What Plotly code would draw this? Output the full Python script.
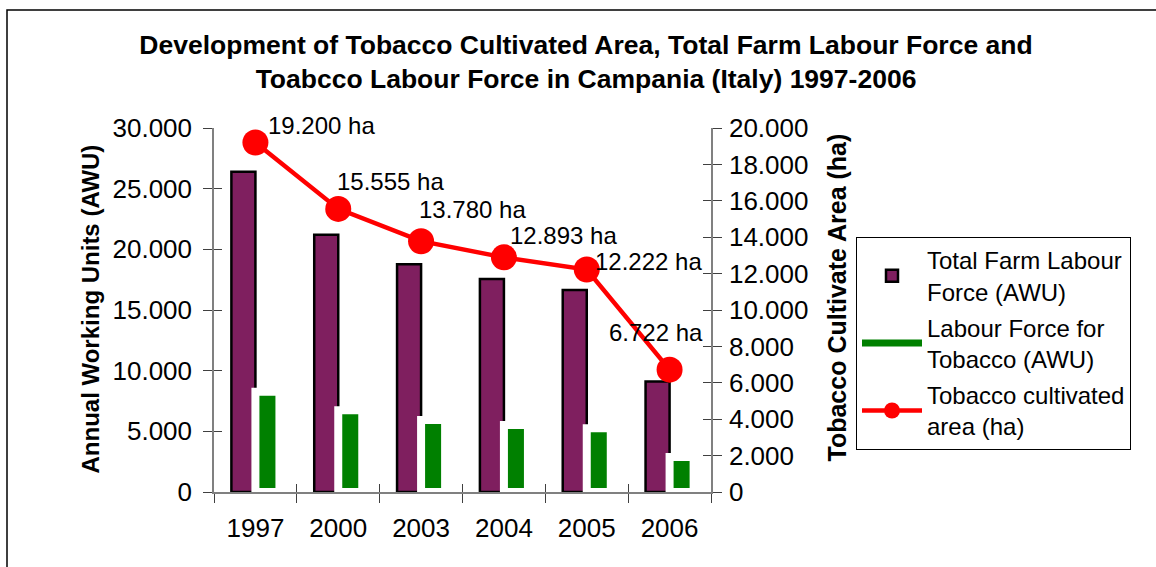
import plotly.graph_objects as go

# Campania tobacco statistics, 1997-2006
years = ["1997", "2000", "2003", "2004", "2005", "2006"]
total_farm_awu = [26400, 21200, 18770, 17560, 16650, 9100]
tobacco_awu = [8270, 6730, 5930, 5520, 5250, 2880]
tobacco_area_ha = [19200, 15555, 13780, 12893, 12222, 6722]

left_ticks = [0, 5000, 10000, 15000, 20000, 25000, 30000]
right_ticks = list(range(0, 20001, 2000))

# pixel offsets of the area labels from their markers
label_dx = [11, -3, -4, 4, 6, -63]
label_dy = [17, 27, 32, 22, 8, 37]

PURPLE = "#7F1F5F"
GREEN = "#008000"
RED = "#FF0000"
FONT = "Liberation Sans, Arial, sans-serif"

W, H = 1156, 567
ML, MR, MT, MB = 214, W - 711, 128, H - 492
PW, PH = W - ML - MR, H - MT - MB


def px_x(p):
    return (p - ML) / PW


def px_y(p):
    return (H - MB - p) / PH


def fmt(v):
    return f"{v:,}".replace(",", ".")


fig = go.Figure()

fig.add_trace(go.Bar(
    x=years, y=total_farm_awu, name="Total Farm Labour<br>Force (AWU)",
    marker=dict(color=PURPLE, line=dict(color="black", width=2.5)),
    legendgroup="a",
))
fig.add_trace(go.Bar(
    x=years, y=tobacco_awu, name="Labour Force for<br>Tobacco (AWU)",
    marker=dict(color=GREEN, line=dict(color="white", width=8)),
    showlegend=False, legendgroup="b",
))
# legend key for the tobacco labour bars, drawn as a thick green stroke
fig.add_trace(go.Scatter(
    x=[years[0]], y=[None], mode="lines", name="Labour Force for<br>Tobacco (AWU)",
    line=dict(color=GREEN, width=7), legendgroup="b", hoverinfo="skip",
))
fig.add_trace(go.Scatter(
    x=years, y=tobacco_area_ha, yaxis="y2", mode="lines+markers",
    name="Tobacco cultivated<br>area (ha)",
    line=dict(color=RED, width=4.5),
    marker=dict(color=RED, size=26),
    legendgroup="c",
))
# empty traces that bind the inner-tick companion axes
for xa, ya in (("x2", "y"), ("x", "y3"), ("x", "y4")):
    fig.add_trace(go.Scatter(x=[None], y=[None], xaxis=xa, yaxis=ya,
                             showlegend=False, hoverinfo="skip"))

# value labels for the cultivated area (category index used for x)
for i, (v, dx, dy) in enumerate(zip(tobacco_area_ha, label_dx, label_dy)):
    fig.add_annotation(
        x=i, y=v, xref="x", yref="y2", text=f"{fmt(v)} ha",
        showarrow=False, xanchor="left", yanchor="middle",
        xshift=dx, yshift=dy, font=dict(size=24, color="black", family=FONT),
    )

# axis titles
fig.add_annotation(
    x=px_x(90), y=px_y(309.5), xref="paper", yref="paper",
    text="<b>Annual Working Units (AWU)</b>", textangle=-90, showarrow=False,
    xanchor="center", yanchor="middle",
    font=dict(size=24, color="black", family=FONT),
)
fig.add_annotation(
    x=px_x(836), y=px_y(297.5), xref="paper", yref="paper",
    text="<b>Tobacco Cultivate Area (ha)</b>", textangle=-90, showarrow=False,
    xanchor="center", yanchor="middle",
    font=dict(size=25, color="black", family=FONT),
)

axis_common = dict(
    showgrid=False, zeroline=False, showline=True, linecolor="#808080",
    linewidth=1.5, ticks="outside", ticklen=9, tickcolor="#404040",
    tickwidth=1, tickfont=dict(size=26, color="black", family=FONT),
)
# companion axes that only carry the inner half of the crossing tick marks
inner_ticks = dict(
    showgrid=False, zeroline=False, showline=False, showticklabels=False,
    ticks="inside", ticklen=8, tickcolor="#404040", tickwidth=1,
)

fig.update_layout(
    width=W, height=H,
    margin=dict(l=ML, r=MR, t=MT, b=MB, autoexpand=False),
    paper_bgcolor="white", plot_bgcolor="white",
    barmode="group", bargap=0.42, bargroupgap=0,
    font=dict(family=FONT, color="black"),
    title=dict(
        text="<b>Development of Tobacco Cultivated Area, Total Farm Labour Force and<br>Toabcco Labour Force in Campania (Italy) 1997-2006</b>",
        x=586 / W, xref="container", xanchor="center",
        y=1 - 54 / H, yref="container", yanchor="middle",
        font=dict(size=26.5, color="black", family=FONT),
    ),
    xaxis=dict(**axis_common, type="category", tickson="boundaries",
               categoryorder="array", categoryarray=years,
               range=[-0.5, len(years) - 0.5], tickangle=0,
               ticklabelstandoff=12),
    xaxis2=dict(**inner_ticks, overlaying="x", anchor="y", side="bottom",
                range=[-0.5, len(years) - 0.5],
                tickvals=[i - 0.5 for i in range(len(years) + 1)]),
    yaxis=dict(
        **axis_common, range=[0, 30000], tickvals=left_ticks,
        ticktext=[fmt(t) for t in left_ticks], ticklabelstandoff=6,
    ),
    yaxis2=dict(
        **axis_common, range=[0, 20000], tickvals=right_ticks,
        ticktext=[fmt(t) for t in right_ticks],
        overlaying="y", side="right", ticklabelstandoff=2,
    ),
    yaxis3=dict(**inner_ticks, overlaying="y", anchor="x", side="left",
                range=[0, 30000], tickvals=left_ticks),
    yaxis4=dict(**inner_ticks, overlaying="y", anchor="x", side="right",
                range=[0, 20000], tickvals=right_ticks),
    legend=dict(
        x=px_x(856), y=px_y(237), xanchor="left", yanchor="top",
        bordercolor="black", borderwidth=1, bgcolor="white",
        font=dict(size=24, color="black", family=FONT),
        traceorder="grouped", tracegroupgap=2, itemwidth=60,
    ),
    showlegend=True,
)

# outer chart frame
fig.add_shape(
    type="rect", xref="paper", yref="paper", layer="below",
    x0=px_x(7), x1=px_x(W + 10), y0=px_y(H + 10), y1=px_y(10),
    line=dict(color="black", width=1.5), fillcolor="rgba(0,0,0,0)",
)

fig.write_html("out.html")
